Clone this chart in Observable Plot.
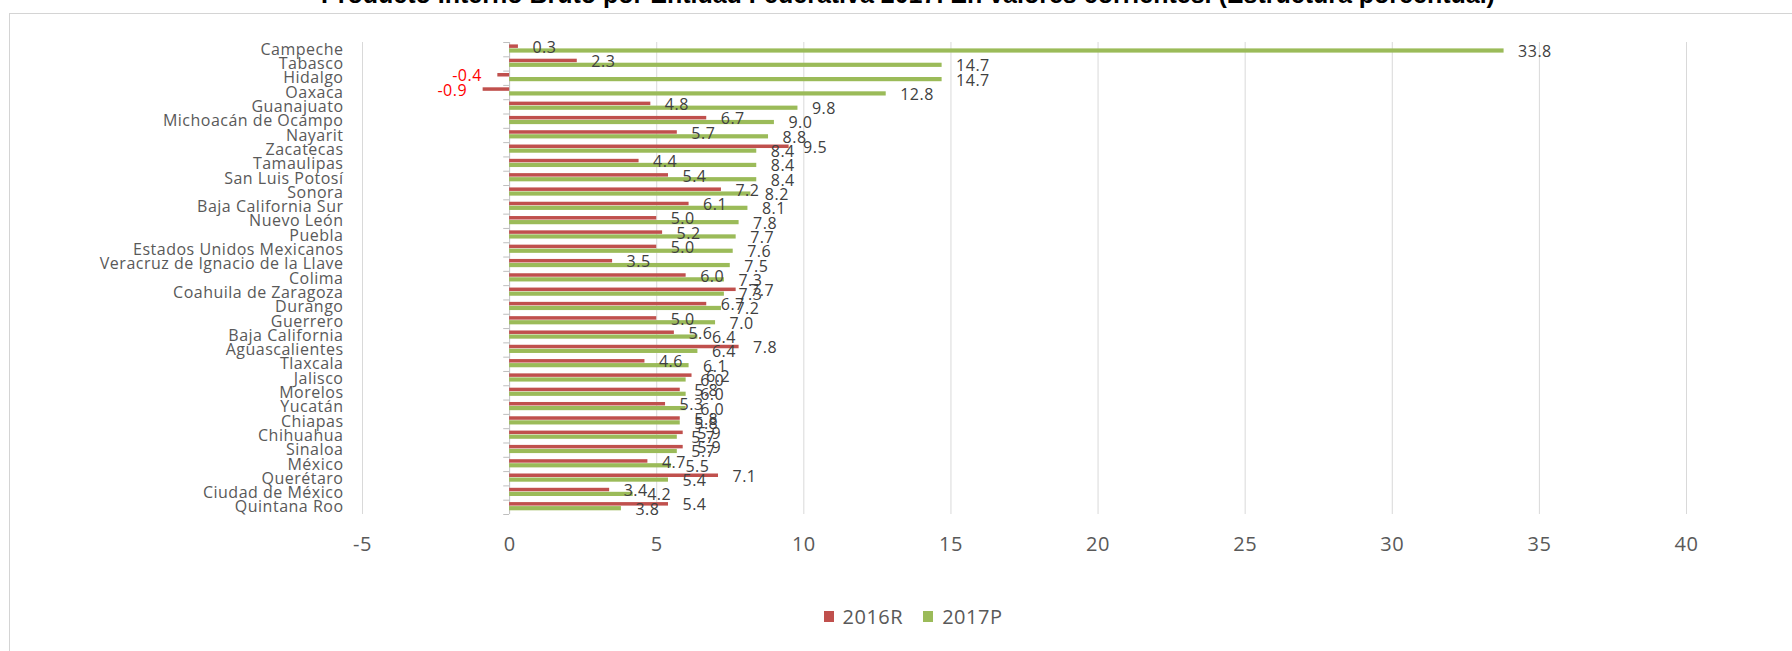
<!DOCTYPE html>
<html>
<head>
<meta charset="utf-8">
<script src="https://cdn.jsdelivr.net/npm/d3@7"></script>
<script src="https://cdn.jsdelivr.net/npm/@observablehq/plot@0.6"></script>
<style>
  html, body { margin: 0; padding: 0; background: #fff; }
  body { width: 1792px; height: 651px; position: relative; overflow: hidden; font-family: "Open Sans", sans-serif; }
  #frame { position: absolute; left: 9px; top: 13px; width: 2000px; height: 1000px;
           border-left: 1px solid #d4d4d4; border-top: 1px solid #d4d4d4; z-index: 0; }
  #title { position: absolute; left: 908px; top: -18px; transform: translateX(-50%); white-space: nowrap;
           font: bold 25px/25px "Liberation Sans", Arial, sans-serif; color: #000; z-index: 2; }
  #chart { position: absolute; left: 0; top: 0; z-index: 1; }
  #chart svg text { letter-spacing: 0.5px; }
  #legend { position: absolute; left: 0; top: 603px; width: 1826px; display: flex; justify-content: center;
            align-items: center; gap: 20px; font-size: 20px; color: #595959; z-index: 1; letter-spacing: 0.5px; }
  #legend .item { display: flex; align-items: center; gap: 9px; }
  #legend .sw { width: 10px; height: 11px; display: inline-block; }
</style>
</head>
<body>
<div id="frame"></div>
<div id="title"></div>
<div id="chart"></div>
<div id="legend"></div>
<script>
// ---- data ----
const titleText = "Producto Interno Bruto por Entidad Federativa 2017. En valores corrientes. (Estructura porcentual)";
const states = [
  "Campeche", "Tabasco", "Hidalgo", "Oaxaca", "Guanajuato", "Michoacán de Ocampo", "Nayarit",
  "Zacatecas", "Tamaulipas", "San Luis Potosí", "Sonora", "Baja California Sur", "Nuevo León",
  "Puebla", "Estados Unidos Mexicanos", "Veracruz de Ignacio de la Llave", "Colima",
  "Coahuila de Zaragoza", "Durango", "Guerrero", "Baja California", "Aguascalientes", "Tlaxcala",
  "Jalisco", "Morelos", "Yucatán", "Chiapas", "Chihuahua", "Sinaloa", "México", "Querétaro",
  "Ciudad de México", "Quintana Roo"
];
const v2016R = [0.3, 2.3, -0.4, -0.9, 4.8, 6.7, 5.7, 9.5, 4.4, 5.4, 7.2, 6.1, 5.0, 5.2, 5.0, 3.5, 6.0,
                7.7, 6.7, 5.0, 5.6, 7.8, 4.6, 6.2, 5.8, 5.3, 5.8, 5.9, 5.9, 4.7, 7.1, 3.4, 5.4];
const v2017P = [33.8, 14.7, 14.7, 12.8, 9.8, 9.0, 8.8, 8.4, 8.4, 8.4, 8.2, 8.1, 7.8, 7.7, 7.6, 7.5, 7.3,
                7.3, 7.2, 7.0, 6.4, 6.4, 6.1, 6.0, 6.0, 6.0, 5.8, 5.7, 5.7, 5.5, 5.4, 4.2, 3.8];
const seriesNames = ["2016R", "2017P"];
const seriesColors = ["#C0504D", "#9BBB59"];
const xTicks = [-5, 0, 5, 10, 15, 20, 25, 30, 35, 40];
const xDomain = [-5, 40];

// ---- build ----
document.getElementById("title").textContent = titleText;

const rowsA = states.map((s, i) => ({state: s, v: v2016R[i]}));
const rowsB = states.map((s, i) => ({state: s, v: v2017P[i]}));

const W = 1792, H = 580, mT = 42, mB = 66, mL = 362, mR = 106;
const bw = (H - mT - mB) / states.length;
const TICK_LEN = 0.2; // tick length on the zero axis (x units)
const fmt = d => d.v.toFixed(1);

const chart = Plot.plot({
  width: W, height: H,
  marginTop: mT, marginBottom: mB, marginLeft: mL, marginRight: mR,
  x: {domain: xDomain, axis: null, label: null},
  y: {domain: states, padding: 0, round: false, axis: null, label: null},
  style: {fontFamily: '"Open Sans", sans-serif', background: "transparent", color: "#595959", overflow: "visible"},
  marks: [
    Plot.ruleX(xTicks.filter(t => t !== 0), {stroke: "#d9d9d9", strokeWidth: 1}),
    Plot.ruleX([0], {stroke: "#bfbfbf", strokeWidth: 1}),
    Plot.ruleY(states, {y: d => d, x1: -TICK_LEN, x2: 0, dy: -bw / 2, stroke: "#bfbfbf"}),
    Plot.ruleY(states.slice(-1), {y: d => d, x1: -TICK_LEN, x2: 0, dy: bw / 2, stroke: "#bfbfbf"}),
    Plot.barX(rowsA, {y: "state", x1: 0, x2: "v", fill: seriesColors[0], insetTop: 2.4, insetBottom: 8.4}),
    Plot.barX(rowsB, {y: "state", x1: 0, x2: "v", fill: seriesColors[1], insetTop: 6.4, insetBottom: 3.7}),
    Plot.text(rowsA.filter(d => d.v >= 0), {y: "state", x: "v", text: fmt, dx: 14, dy: -2,
      textAnchor: "start", fontSize: 16, fill: "#404040"}),
    Plot.text(rowsA.filter(d => d.v < 0), {y: "state", x: "v", text: fmt, dx: -16, dy: -2,
      textAnchor: "end", fontSize: 16, fill: "#FF0000"}),
    Plot.text(rowsB, {y: "state", x: "v", text: fmt, dx: 14, dy: 2.2,
      textAnchor: "start", fontSize: 16, fill: "#404040"}),
    Plot.axisY({tickSize: 0, tickPadding: 19, fontSize: 16, color: "#595959", label: null}),
    Plot.axisX({ticks: xTicks, tickSize: 0, tickPadding: 22, tickFormat: d => String(d), fontSize: 20,
      color: "#595959", label: null})
  ]
});
document.getElementById("chart").appendChild(chart);

const legend = document.getElementById("legend");
seriesNames.forEach((name, i) => {
  const item = document.createElement("div");
  item.className = "item";
  const sw = document.createElement("span");
  sw.className = "sw";
  sw.style.background = seriesColors[i];
  const label = document.createElement("span");
  label.textContent = name;
  item.appendChild(sw);
  item.appendChild(label);
  legend.appendChild(item);
});
</script>
</body>
</html>
